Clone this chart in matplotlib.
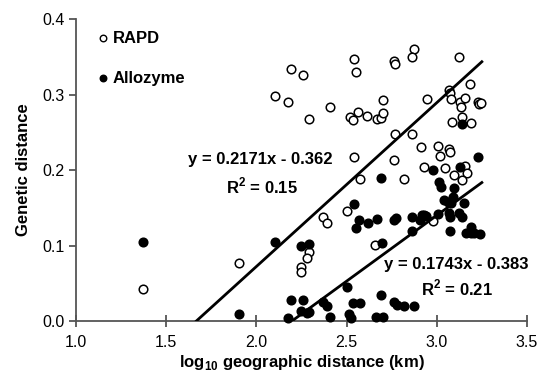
import matplotlib
matplotlib.use("Agg")
import matplotlib.pyplot as plt
import numpy as np

plt.rcParams['font.family'] = ['Liberation Sans', 'DejaVu Sans']
plt.rcParams['mathtext.fontset'] = 'custom'
plt.rcParams['mathtext.rm'] = 'Liberation Sans'
plt.rcParams['mathtext.bf'] = 'Liberation Sans:bold'

rapd_x = [1.372, 1.906, 2.106, 2.178, 2.194, 2.256, 2.294, 2.406, 2.539, 2.550,
          2.517, 2.533, 2.561, 2.611, 2.667, 2.689, 2.700, 2.700, 2.761, 2.767,
          2.872, 2.861, 3.122, 3.183, 2.944, 3.067, 3.072, 3.078, 3.128, 3.156,
          3.133, 3.228, 3.233, 3.244, 3.139, 3.083, 3.189, 2.767, 2.861, 2.911,
          3.006, 3.017, 3.067, 3.072, 2.539, 2.761, 2.928, 3.044, 3.156, 3.167,
          3.094, 3.139, 2.817, 2.572, 2.372, 2.394, 2.500, 2.656, 2.294, 2.278,
          2.250, 2.250, 2.978]
rapd_y = [0.042, 0.077, 0.298, 0.290, 0.334, 0.326, 0.268, 0.283, 0.347, 0.330,
          0.270, 0.266, 0.277, 0.272, 0.268, 0.269, 0.275, 0.293, 0.344, 0.341,
          0.360, 0.350, 0.350, 0.314, 0.294, 0.306, 0.302, 0.294, 0.290, 0.295,
          0.283, 0.290, 0.287, 0.289, 0.270, 0.264, 0.262, 0.248, 0.248, 0.230,
          0.232, 0.219, 0.228, 0.224, 0.217, 0.213, 0.204, 0.203, 0.205, 0.196,
          0.193, 0.187, 0.188, 0.188, 0.138, 0.130, 0.146, 0.101, 0.091, 0.083,
          0.072, 0.065, 0.132]

allo_x = [1.372, 1.906, 2.106, 2.250, 2.294, 2.539, 2.567, 2.617, 2.550, 2.667,
          2.761, 2.772, 2.861, 2.861, 2.917, 2.928, 2.939, 2.906, 3.006, 3.039,
          3.061, 3.089, 3.078, 3.067, 3.072, 3.072, 3.122, 3.139, 3.150, 3.189,
          3.161, 3.189, 3.206, 3.239, 2.694, 2.500, 2.194, 2.256, 2.372, 2.394,
          2.533, 2.572, 2.689, 2.761, 2.778, 2.817, 2.872, 2.250, 2.278, 2.294,
          2.178, 2.406, 2.511, 2.522, 2.661, 2.700, 3.139, 3.228, 2.689, 2.978,
          3.128, 3.011, 3.022, 3.094]
allo_y = [0.105, 0.009, 0.105, 0.100, 0.102, 0.155, 0.134, 0.130, 0.123, 0.135,
          0.134, 0.136, 0.138, 0.119, 0.140, 0.140, 0.139, 0.134, 0.142, 0.160,
          0.158, 0.164, 0.156, 0.143, 0.138, 0.119, 0.143, 0.138, 0.156, 0.125,
          0.117, 0.117, 0.117, 0.115, 0.103, 0.045, 0.028, 0.028, 0.025, 0.020,
          0.024, 0.024, 0.034, 0.025, 0.021, 0.020, 0.020, 0.013, 0.011, 0.012,
          0.004, 0.005, 0.009, 0.004, 0.005, 0.005, 0.261, 0.217, 0.190, 0.200,
          0.204, 0.184, 0.177, 0.176]

rapd_fit = (0.2171, -0.362)
allo_fit = (0.1743, -0.383)
fit_xmax = 3.25

x_ticks = [1.0, 1.5, 2.0, 2.5, 3.0, 3.5]
y_ticks = [0.0, 0.1, 0.2, 0.3, 0.4]

fig = plt.figure(figsize=(5.41, 3.76), dpi=100)
ax = fig.add_axes([0.1405, 0.1463, 0.8335, 0.8027])

ax.scatter(rapd_x, rapd_y, s=38, facecolors='white', edgecolors='black',
           linewidths=1.1, zorder=3, clip_on=False)
ax.scatter(allo_x, allo_y, s=38, facecolors='black', edgecolors='black',
           linewidths=1.1, zorder=3, clip_on=False)

for slope, icpt in (rapd_fit, allo_fit):
    x0 = -icpt / slope
    xs = np.array([x0, fit_xmax])
    ax.plot(xs, slope * xs + icpt, color='black', lw=2, zorder=4)

ax.set_xlim(1.0, 3.5)
ax.set_ylim(0.0, 0.4)
ax.set_xticks(x_ticks)
ax.set_yticks(y_ticks)
ax.set_xticklabels([f"{v:.1f}" for v in x_ticks])
ax.set_yticklabels([f"{v:.1f}" for v in y_ticks])

for s in ('top', 'right'):
    ax.spines[s].set_visible(False)
for s in ('left', 'bottom'):
    ax.spines[s].set_color('#555555')
    ax.spines[s].set_linewidth(1.3)
ax.tick_params(axis='x', direction='inout', length=8, width=1.3, color='#555555',
               labelsize=11.5, pad=6)
ax.tick_params(axis='y', direction='out', length=5, width=1.3, color='#555555',
               labelsize=11.5, pad=3)

ax.set_xlabel(r'log$_{\mathbf{10}}$ geographic distance (km)', fontsize=12, fontweight='bold', labelpad=2)
ax.set_ylabel('Genetic distance', fontsize=12, fontweight='bold', labelpad=8)

tkw = dict(fontsize=12, fontweight='bold', ha='center', va='center', transform=ax.transData)
ax.text(2.02, 0.214, 'y = 0.2171x - 0.362', **tkw)
ax.text(2.03, 0.179, r'R$^{\mathbf{2}}$ = 0.15', **tkw)
ax.text(3.11, 0.075, 'y = 0.1743x - 0.383', **tkw)
ax.text(3.11, 0.044, r'R$^{\mathbf{2}}$ = 0.21', **tkw)

# legend-like labels
ax.scatter([1.15], [0.3745], s=22, facecolors='white', edgecolors='black', linewidths=1.0, clip_on=False)
ax.scatter([1.15], [0.3215], s=22, facecolors='black', edgecolors='black', linewidths=1.0, clip_on=False)
ax.text(1.205, 0.3745, 'RAPD', fontsize=12, fontweight='bold', va='center', ha='left')
ax.text(1.205, 0.3215, 'Allozyme', fontsize=12, fontweight='bold', va='center', ha='left')

fig.savefig('out.png', dpi=100)
